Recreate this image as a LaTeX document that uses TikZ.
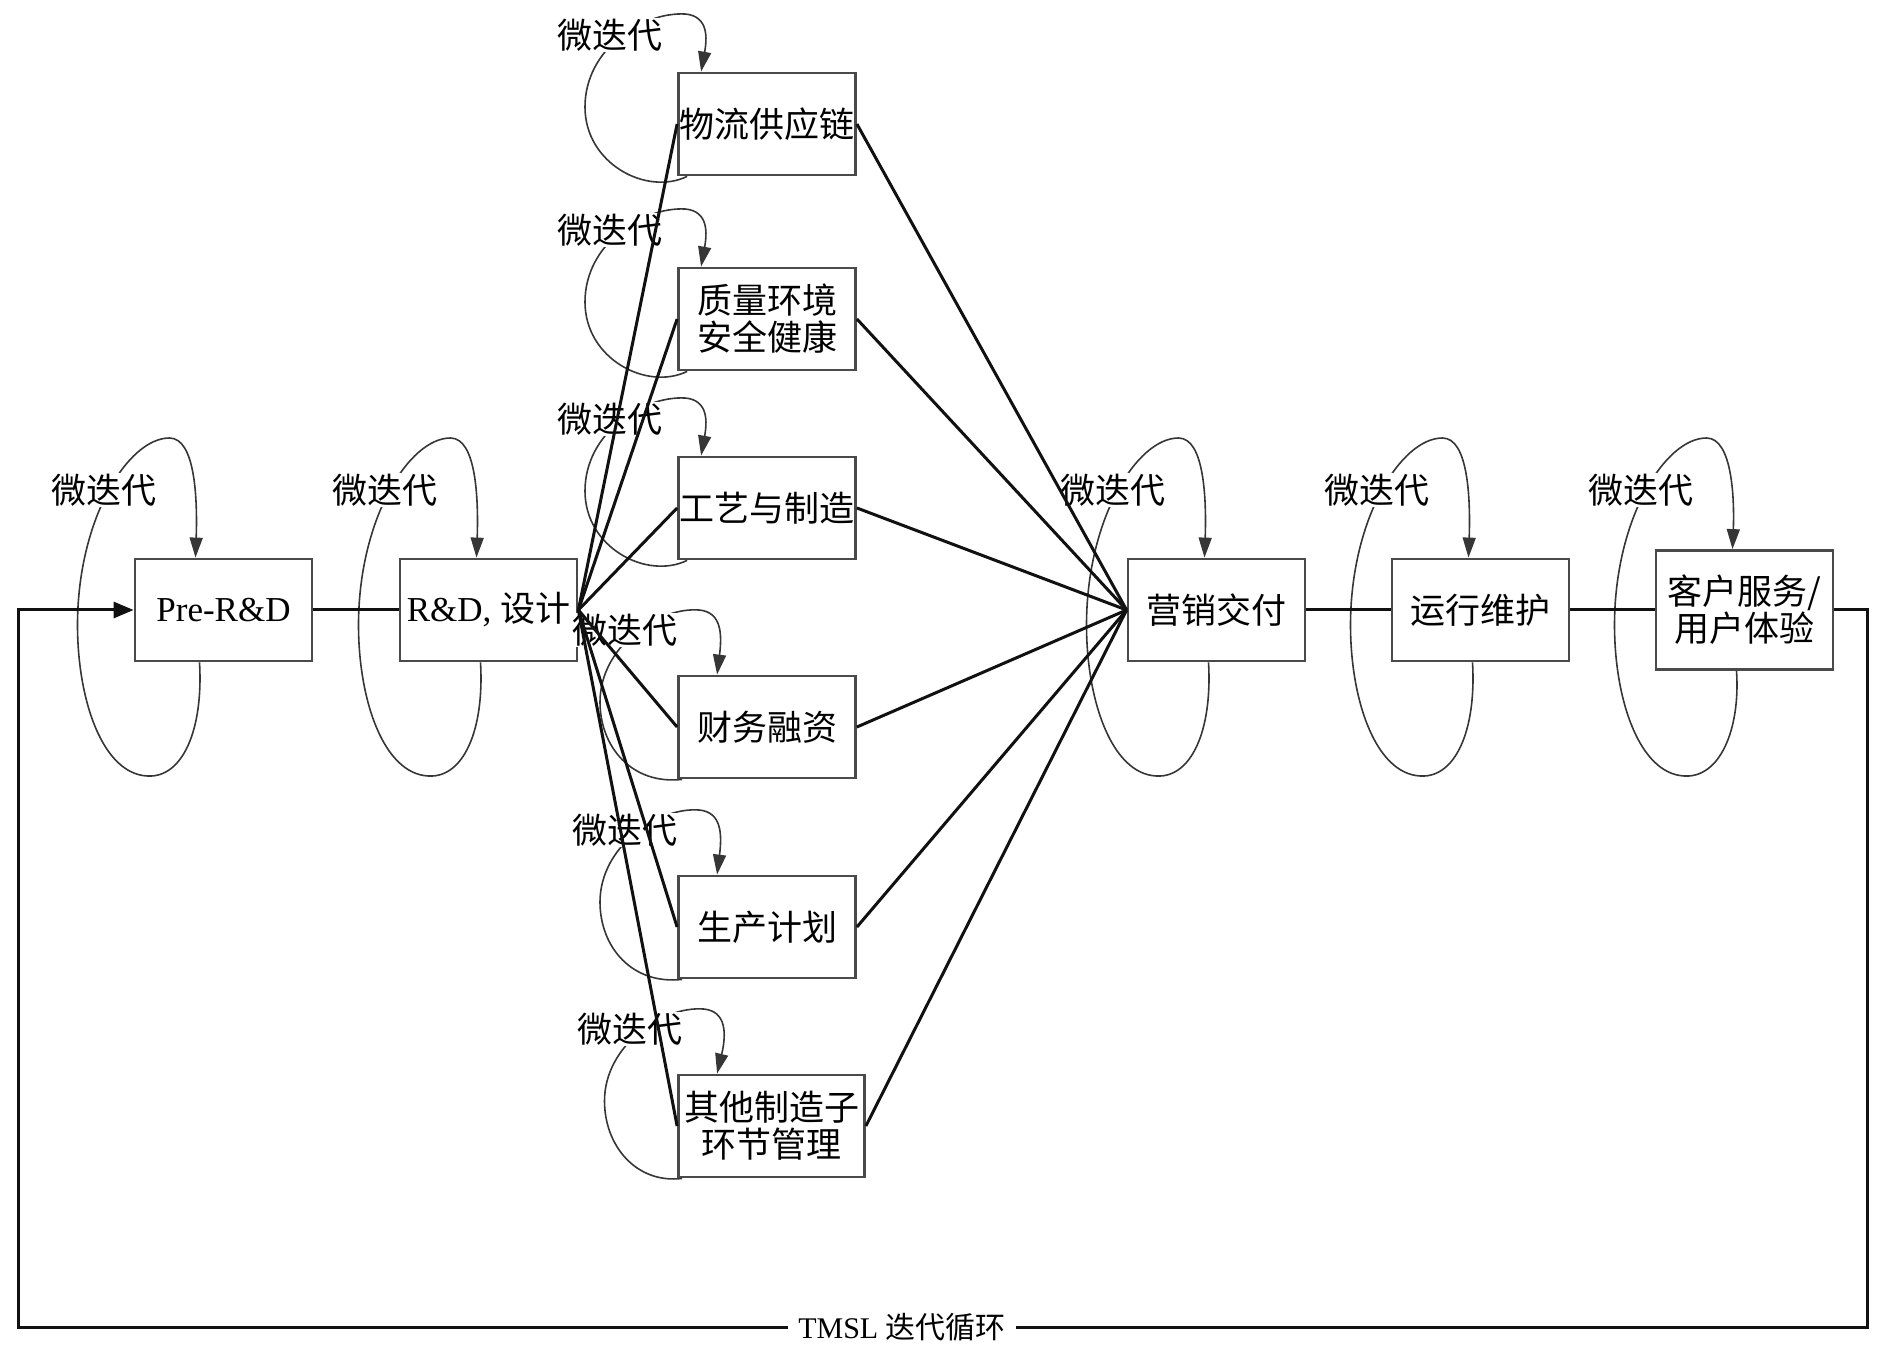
\documentclass[tikz,border=0pt]{standalone}
\usepackage{fontspec}
\setmainfont{Liberation Serif}
\newfontfamily\cjk{Noto Sans CJK SC}
\usepackage{xcolor}
\definecolor{cLine}{HTML}{111111}
\definecolor{cBox}{HTML}{4A4A4A}
\definecolor{cLoop}{HTML}{363636}
\usetikzlibrary{arrows.meta,calc}
\tikzset{
  node-box/.style={draw=cBox,line width=1.4pt,fill=white,inner sep=0pt,
    minimum width=88.5pt,minimum height=51pt,align=center,
    font=\fontsize{17.5}{18.5}\selectfont},
  node-iter/.style={fill=white,inner sep=0.5pt,
    font=\cjk\fontsize{17.5}{18.5}\selectfont},
  node-tmsl/.style={fill=white,inner sep=5pt,font=\fontsize{15}{16}\selectfont},
  line-main/.style={draw=cLine,line width=1.5pt},
  arrow-main/.style={-{Triangle[length=10pt,width=8pt]},draw=cLine,line width=1.5pt},
  arrow-loop/.style={-{Triangle[length=10pt,width=6.5pt]},draw=cLoop,line width=0.8pt},
}

\begin{document}
\begin{tikzpicture}[x=0.5pt,y=-0.5pt]
  \useasboundingbox (0,0) rectangle (1890,1347);
  % main chain
  \node[node-box] (pre) at (223.5,610) {Pre-R\&D};
  \node[node-box] (rd) at (488.5,610) {R\&D, {\cjk 设计}};
  \node[node-box] (yx) at (1216.5,610) {\cjk 营销交付};
  \node[node-box] (yw) at (1480.5,610) {\cjk 运行维护};
  \node[node-box,minimum height=59.5pt] (kf) at (1744.5,610)
    {\cjk 客户服务/\\\cjk 用户体验};
  % sub-processes
  \node[node-box] (wl) at (767,124) {\cjk 物流供应链};
  \node[node-box] (zl) at (767,319) {\cjk 质量环境\\\cjk 安全健康};
  \node[node-box] (gy) at (767,508) {\cjk 工艺与制造};
  \node[node-box] (cw) at (767,727) {\cjk 财务融资};
  \node[node-box] (sc) at (767,927) {\cjk 生产计划};
  \node[node-box,minimum width=93pt] (qt) at (771.5,1126)
    {\cjk 其他制造子\\\cjk 环节管理};

  % micro iteration loops
  \foreach \n/\s in {pre/-16,rd/0,yx/0,yw/0,kf/0} {
    \draw[arrow-loop] ($(\n.south)+(\s-8,0)$)
      .. controls ($(\n)+(\s-4,120)$) and ($(\n)+(\s-25,168)$) .. ($(\n)+(\s-60,166)$)
      .. controls ($(\n)+(\s-105,164)$) and ($(\n)+(\s-130,90)$) .. ($(\n)+(\s-130,15)$)
      .. controls ($(\n)+(\s-130,-90)$) and ($(\n)+(\s-80,-172)$) .. ($(\n)+(\s-38,-172)$)
      .. controls ($(\n)+(\s-12,-172)$) and ($(\n)+(\s-10,-110)$) .. ($(\n.north)+(\s-12,0)$);
    \node[node-iter] (iter-\n) at ($(\n)+(\s-104,-120)$) {微迭代};
  }
  \foreach \n in {wl,zl,gy} {
    \draw[arrow-loop] ($(\n.south west)+(10,0)$)
      .. controls ($(\n)+(-120,72)$) and ($(\n)+(-182,40)$) .. ($(\n)+(-182,-17)$)
      .. controls ($(\n)+(-182,-75)$) and ($(\n)+(-125,-112)$) .. ($(\n)+(-82,-110)$)
      .. controls ($(\n)+(-58,-108)$) and ($(\n)+(-60,-85)$) .. ($(\n.north west)+(24,0)$);
    \node[node-iter] (iter-\n) at ($(\n)+(-157,-89)$) {微迭代};
  }
  \foreach \n in {cw,sc,qt} {
    \draw[arrow-loop] ($(\n.south west)+(5,0)$)
      .. controls ($(\n)+(-135,58)$) and ($(\n)+(-167,20)$) .. ($(\n)+(-167,-25)$)
      .. controls ($(\n)+(-167,-80)$) and ($(\n)+(-110,-120)$) .. ($(\n)+(-68,-117)$)
      .. controls ($(\n)+(-45,-115)$) and ($(\n)+(-45,-92)$) .. ($(\n.north west)+(40,0)$);
    \node[node-iter] (iter-\n) at ($(\n)+(-142,-97)$) {微迭代};
  }

  % connectors
  \draw[line-main] (pre.east) -- (rd.west);
  \foreach \m in {wl,zl,gy,cw,sc,qt} {
    \draw[line-main] (rd.east) -- (\m.west);
    \draw[line-main] (\m.east) -- (yx.west);
  }
  \draw[line-main] (yx.east) -- (yw.west);
  \draw[line-main] (yw.east) -- (kf.west);

  % TMSL feedback
  \coordinate (fb-se) at (1867,1327);
  \coordinate (fb-sw) at (18,1327);
  \draw[arrow-main] (kf.east) -| (fb-se) -- (fb-sw) |- (pre.west);
  \node[node-tmsl] (tmsl) at (902,1327) {TMSL {\cjk 迭代循环}};
\end{tikzpicture}
\end{document}
